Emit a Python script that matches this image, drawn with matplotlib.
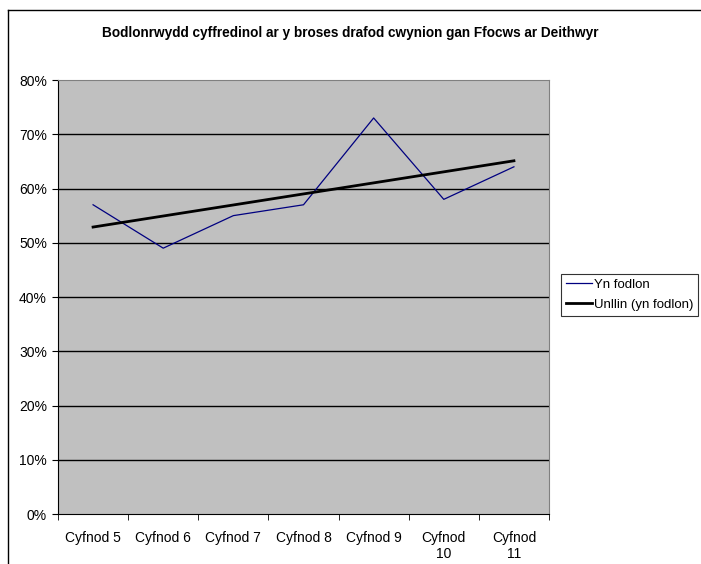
import numpy as np
import matplotlib.pyplot as plt
from matplotlib.lines import Line2D
from matplotlib.ticker import FuncFormatter, FixedLocator

plt.rcParams['font.family'] = ['Liberation Sans', 'DejaVu Sans']

categories = ["Cyfnod 5", "Cyfnod 6", "Cyfnod 7", "Cyfnod 8", "Cyfnod 9", "Cyfnod\n10", "Cyfnod\n11"]
yn_fodlon = [0.57, 0.49, 0.55, 0.57, 0.73, 0.58, 0.64]
y_ticks = [0, 0.1, 0.2, 0.3, 0.4, 0.5, 0.6, 0.7, 0.8]

fig = plt.figure(figsize=(7.01, 5.64), dpi=100)
ax = fig.add_axes([58/701, 1 - 514/564, (549 - 58)/701, (514 - 80)/564])
ax.set_facecolor("#c0c0c0")

x = np.arange(len(categories))
ax.plot(x, yn_fodlon, color="#000080", lw=0.9, label="Yn fodlon")
# linear trendline
k, b = np.polyfit(x, yn_fodlon, 1)
ax.plot(x, k * x + b, color="black", lw=2, label="Unllin (yn fodlon)")

ax.set_xlim(-0.5, len(categories) - 0.5)
ax.set_ylim(0, 0.8)
ax.set_yticks(y_ticks)
ax.yaxis.set_major_formatter(FuncFormatter(lambda v, p: f"{v*100:.0f}%"))
for v in y_ticks[1:-1]:
    ax.axhline(v, color="black", lw=1, zorder=1)

ax.set_xticks(x)
ax.set_xticklabels(categories, fontsize=10, linespacing=1.25)
ax.tick_params(axis="x", length=0, pad=12)
ax.xaxis.set_minor_locator(FixedLocator(np.arange(len(categories) + 1) - 0.5))
ax.tick_params(axis="x", which="minor", length=4, direction="out")
ax.tick_params(axis="y", length=4, direction="out", labelsize=10, pad=4)

ax.spines["left"].set_color("black")
ax.spines["bottom"].set_color("black")
ax.spines["top"].set_color("#808080")
ax.spines["right"].set_color("#808080")

fig.text(350/701, 1 - 33/564, "Bodlonrwydd cyffredinol ar y broses drafod cwynion gan Ffocws ar Deithwyr",
         ha="center", va="center", fontsize=9.8, fontweight="bold")

leg = fig.legend(loc="upper left", bbox_to_anchor=(561/701, 1 - 274/564), fontsize=9.5,
                 frameon=True, fancybox=False, edgecolor="black", borderpad=0.35,
                 handlelength=2.0, handletextpad=0.15, labelspacing=0.6, borderaxespad=0)
leg.get_frame().set_linewidth(0.8)

# outer chart border
fig.add_artist(Line2D([8/701, 8/701], [0, 1 - 10/564], color="black", lw=1, transform=fig.transFigure))
fig.add_artist(Line2D([8/701, 1], [1 - 10/564, 1 - 10/564], color="black", lw=1, transform=fig.transFigure))

fig.savefig("out.png", dpi=100)
